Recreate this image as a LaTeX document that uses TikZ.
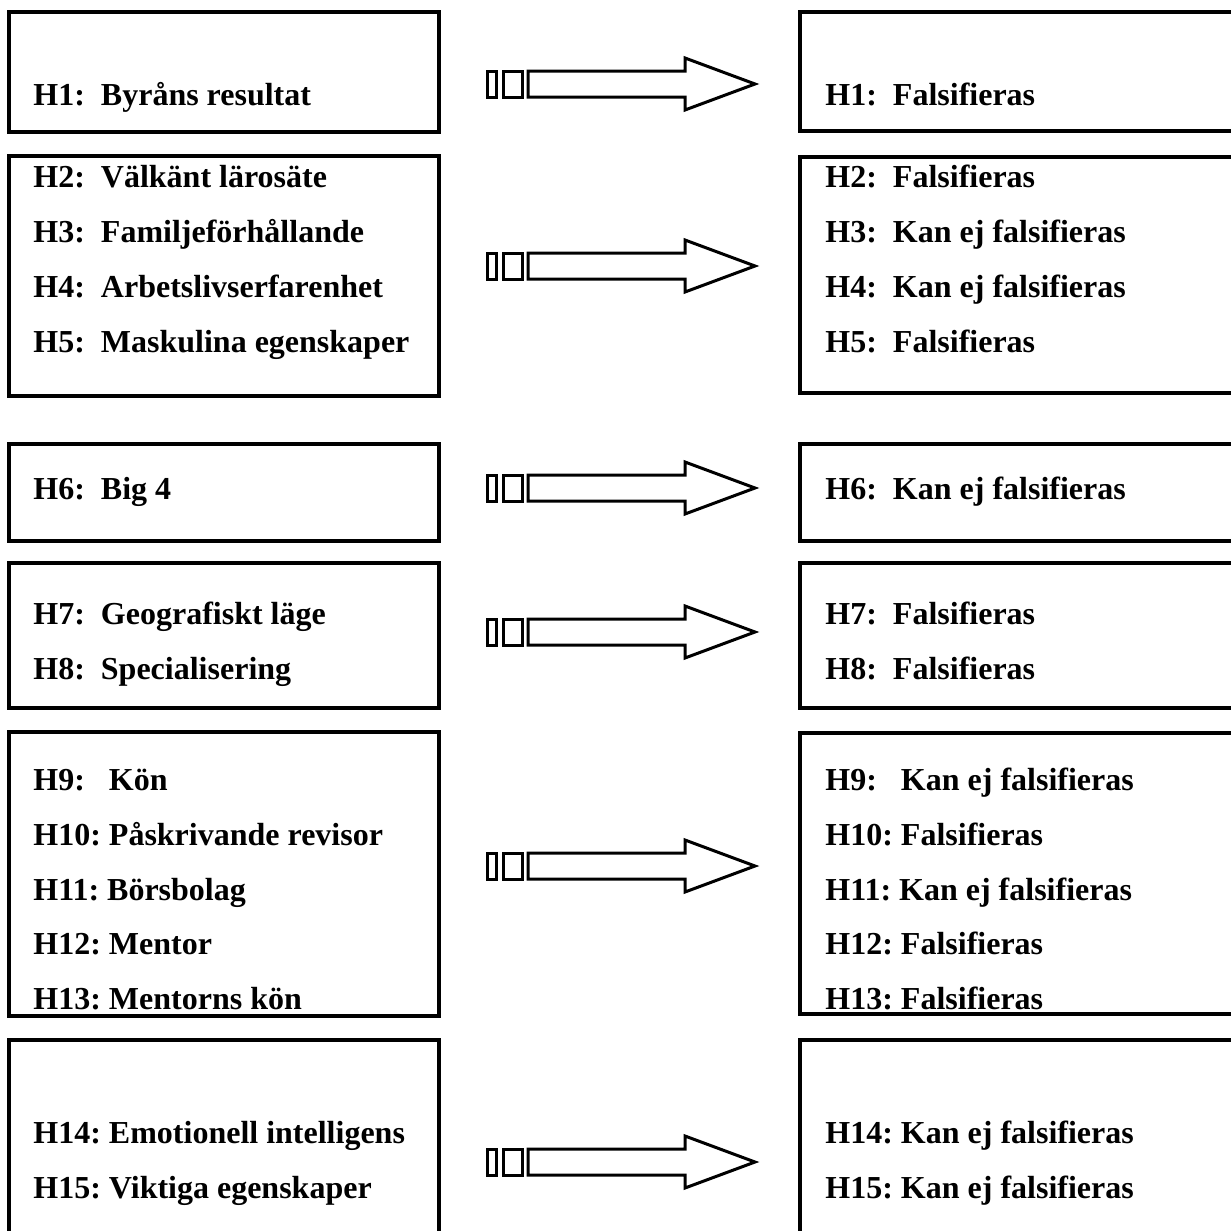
\documentclass[tikz,border=0pt]{standalone}
\usepackage{fontspec}
\setmainfont{Liberation Serif}
\usetikzlibrary{calc}
\frenchspacing

\begin{document}
\begin{tikzpicture}[x=0.5pt,y=-0.5pt, every node/.style={font=\fontsize{16}{20}\selectfont\bfseries}]
\tikzset{hbox/.style={draw,line width=1.75pt,inner sep=0pt,minimum width=215pt},
  rbox/.style={hbox,minimum width=218pt},
  htext/.style={anchor=base west,inner sep=0pt},
  fatarrow/.pic={
    \draw[line width=1.5pt] (0,-13) rectangle (9,13);
    \draw[line width=1.5pt] (16,-13) rectangle (35,13);
    \draw[line width=1.5pt] (41,-13) -- (198,-13) -- (198,-26) -- (268,0)
      -- (198,26) -- (198,13) -- (41,13) -- cycle;
  }}
\useasboundingbox (0,0) rectangle (1231,1231);

% left boxes
\node[hbox,minimum height=60pt]   (l1) at (224,72)    {};
\node[hbox,minimum height=120pt]  (l2) at (224,276)   {};
\node[hbox,minimum height=48.5pt] (l3) at (224,492.5) {};
\node[hbox,minimum height=72.5pt] (l4) at (224,635.5) {};
\node[hbox,minimum height=142pt]  (l5) at (224,874)   {};
\node[hbox,minimum height=105pt]  (l6) at (224,1145)  {};

% right boxes
\node[rbox,minimum height=59.5pt] (r1) at (1018,71.5)  {};
\node[rbox,minimum height=118pt]  (r2) at (1018,275)   {};
\node[rbox,minimum height=48.5pt] (r3) at (1018,492.5) {};
\node[rbox,minimum height=72.5pt] (r4) at (1018,635.5) {};
\node[rbox,minimum height=140.5pt](r5) at (1018,873.5) {};
\node[rbox,minimum height=105pt]  (r6) at (1018,1145)  {};

% arrows
\pic (a1) at (487,84)   {fatarrow};
\pic (a2) at (487,266)  {fatarrow};
\pic (a3) at (487,488)  {fatarrow};
\pic (a4) at (487,632)  {fatarrow};
\pic (a5) at (487,866)  {fatarrow};
\pic (a6) at (487,1162) {fatarrow};

% hypotheses
\node[htext] (h1)  at (33,105)  {H1:~~Byråns resultat};
\node[htext] (h2)  at (33,187)  {H2:~~Välkänt lärosäte};
\node[htext] (h3)  at (33,242)  {H3:~~Familjeförhållande};
\node[htext] (h4)  at (33,297)  {H4:~~Arbetslivserfarenhet};
\node[htext] (h5)  at (33,352)  {H5:~~Maskulina egenskaper};
\node[htext] (h6)  at (33,499)  {H6:~~Big 4};
\node[htext] (h7)  at (33,624)  {H7:~~Geografiskt läge};
\node[htext] (h8)  at (33,679)  {H8:~~Specialisering};
\node[htext] (h9)  at (33,790)  {H9:~~~Kön};
\node[htext] (h10) at (33,845)  {H10: Påskrivande revisor};
\node[htext] (h11) at (33,900)  {H11: Börsbolag};
\node[htext] (h12) at (33,954)  {H12: Mentor};
\node[htext] (h13) at (33,1009) {H13: Mentorns kön};
\node[htext] (h14) at (33,1143) {H14: Emotionell intelligens};
\node[htext] (h15) at (33,1198) {H15: Viktiga egenskaper};

% results
\node[htext] (s1)  at (825,105)  {H1:~~Falsifieras};
\node[htext] (s2)  at (825,187)  {H2:~~Falsifieras};
\node[htext] (s3)  at (825,242)  {H3:~~Kan ej falsifieras};
\node[htext] (s4)  at (825,297)  {H4:~~Kan ej falsifieras};
\node[htext] (s5)  at (825,352)  {H5:~~Falsifieras};
\node[htext] (s6)  at (825,499)  {H6:~~Kan ej falsifieras};
\node[htext] (s7)  at (825,624)  {H7:~~Falsifieras};
\node[htext] (s8)  at (825,679)  {H8:~~Falsifieras};
\node[htext] (s9)  at (825,790)  {H9:~~~Kan ej falsifieras};
\node[htext] (s10) at (825,845)  {H10: Falsifieras};
\node[htext] (s11) at (825,900)  {H11: Kan ej falsifieras};
\node[htext] (s12) at (825,954)  {H12: Falsifieras};
\node[htext] (s13) at (825,1009) {H13: Falsifieras};
\node[htext] (s14) at (825,1143) {H14: Kan ej falsifieras};
\node[htext] (s15) at (825,1198) {H15: Kan ej falsifieras};
\end{tikzpicture}
\end{document}
